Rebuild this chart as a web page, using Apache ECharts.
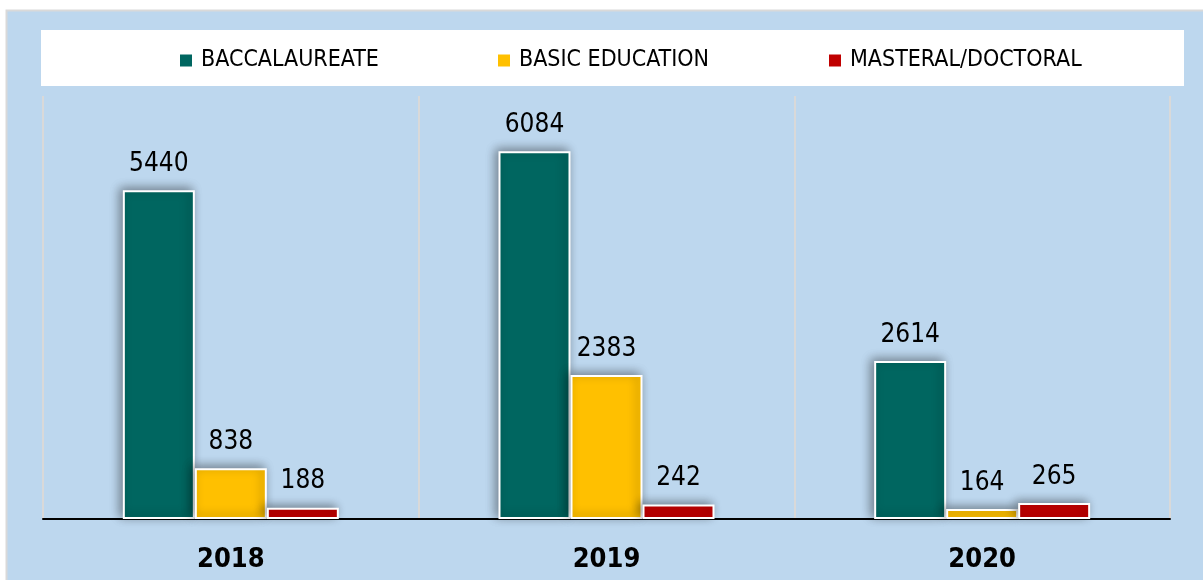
<!DOCTYPE html>
<html>
<head>
<meta charset="utf-8">
<script src="https://cdn.jsdelivr.net/npm/echarts@6/dist/echarts.min.js"></script>
<style>
  html, body { margin: 0; padding: 0; background: #fff; }
  #chart { width: 1203px; height: 580px; }
</style>
</head>
<body>
<div id="chart"></div>
<script>
// data
var years = ["2018", "2019", "2020"];
var baccalaureate = [5440, 6084, 2614];
var basicEducation = [838, 2383, 164];
var masteralDoctoral = [188, 242, 265];

var seriesNames = ["BACCALAUREATE", "BASIC EDUCATION", "MASTERAL/DOCTORAL"];
var seriesColors = ["#006660", "#FFC000", "#C00000"];

var FONT = "'Liberation Sans Narrow', 'DejaVu Sans Condensed', sans-serif";

var barStyle = function (color) {
  return {
    color: color,
    borderColor: "#fff",
    borderWidth: 2,
    shadowColor: "rgba(0, 0, 0, 0.4)",
    shadowBlur: 10,
    shadowOffsetX: -3,
    shadowOffsetY: -2,
  };
};

var valueLabel = {
  show: true,
  position: "top",
  distance: 13,
  fontFamily: FONT,
  fontSize: 26,
  color: "#000",
};

var legendAt = function (name, left) {
  return {
    data: [name],
    left: left,
    top: 44,
    itemWidth: 14,
    itemHeight: 14,
    itemGap: 0,
    icon: "rect",
    textStyle: { fontFamily: FONT, fontSize: 23, color: "#000", padding: [0, 0, 0, 3] },
  };
};

var chart = echarts.init(document.getElementById("chart"));

var option = {
  animation: false,
  graphic: [
    {
      type: "rect",
      z: -10,
      shape: { x: 6.5, y: 10.5, width: 1210, height: 580 },
      style: { fill: "#BDD7EE", stroke: "#d9d9d9", lineWidth: 2 },
      silent: true,
    },
    {
      type: "rect",
      z: -9,
      shape: { x: 41, y: 30, width: 1143, height: 56 },
      style: { fill: "#fff" },
      silent: true,
    },
  ],
  legend: [
    legendAt(seriesNames[0], 173),
    legendAt(seriesNames[1], 491),
    legendAt(seriesNames[2], 822),
  ],
  grid: {
    left: 43,
    right: 33,
    top: 96,
    bottom: 61,
  },
  xAxis: {
    type: "category",
    data: years,
    axisLine: { lineStyle: { color: "#000", width: 2 } },
    axisTick: { show: false },
    splitLine: { show: true, lineStyle: { color: "#d9d9d9", width: 2 } },
    axisLabel: {
      margin: 27,
      fontFamily: FONT,
      fontWeight: "bold",
      fontSize: 27,
      color: "#000",
    },
  },
  yAxis: {
    type: "value",
    min: 0,
    max: 7000,
    show: false,
    splitLine: { show: false },
  },
  series: [
    {
      name: seriesNames[0],
      type: "bar",
      barWidth: 72,
      barGap: "0%",
      itemStyle: barStyle(seriesColors[0]),
      label: valueLabel,
      data: baccalaureate,
    },
    {
      name: seriesNames[1],
      type: "bar",
      barWidth: 72,
      barGap: "0%",
      itemStyle: barStyle(seriesColors[1]),
      label: valueLabel,
      data: basicEducation,
    },
    {
      name: seriesNames[2],
      type: "bar",
      barWidth: 72,
      barGap: "0%",
      itemStyle: barStyle(seriesColors[2]),
      label: valueLabel,
      data: masteralDoctoral,
    },
  ],
};

chart.setOption(option);
</script>
</body>
</html>
